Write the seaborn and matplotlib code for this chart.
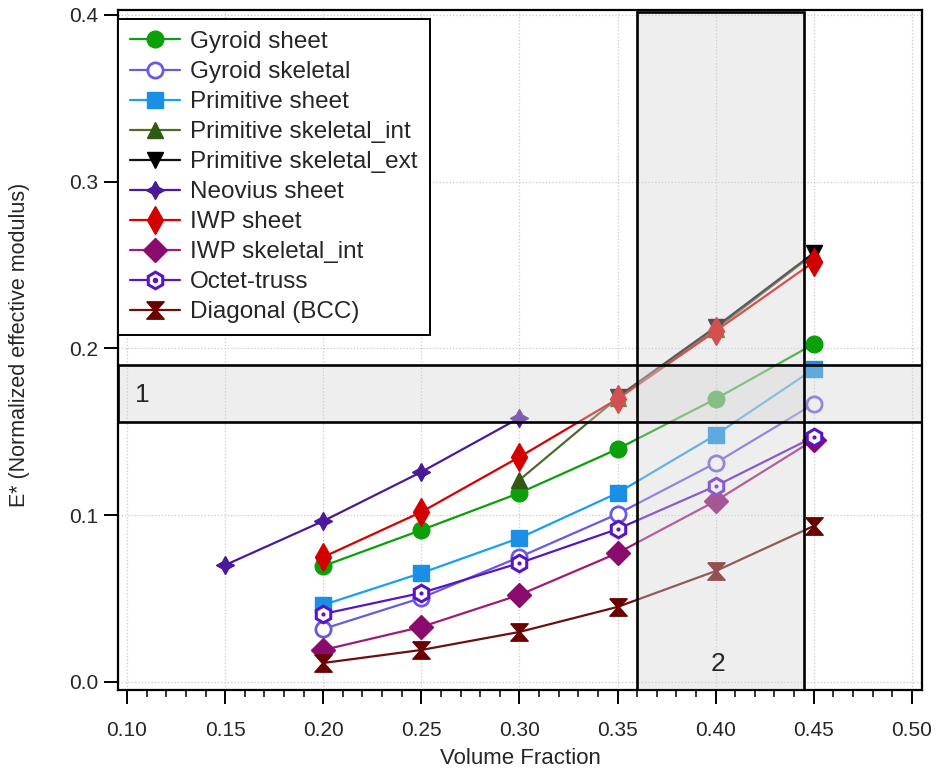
import matplotlib
matplotlib.use("Agg")
import matplotlib.pyplot as plt
import seaborn as sns
from matplotlib.patches import Rectangle
from matplotlib.ticker import MultipleLocator, FormatStrFormatter
from matplotlib.legend_handler import HandlerTuple

# ---------------- data ----------------
vf = [0.20, 0.25, 0.30, 0.35, 0.40, 0.45]
gyroid_sheet = [0.0695, 0.0911, 0.1133, 0.1397, 0.1697, 0.2026]
gyroid_skeletal = [0.0318, 0.0504, 0.0749, 0.1007, 0.1313, 0.1667]
primitive_sheet = [0.0462, 0.0653, 0.0863, 0.1133, 0.1481, 0.1876]
vf_prim_int = [0.30, 0.35, 0.40, 0.45]
primitive_skeletal_int = [0.1211, 0.1703, 0.2116, 0.2566]
vf_prim_ext = [0.35, 0.40, 0.45]
primitive_skeletal_ext = [0.1709, 0.2128, 0.2572]
vf_neovius = [0.15, 0.20, 0.25, 0.30]
neovius_sheet = [0.0701, 0.0965, 0.1259, 0.1583]
iwp_sheet = [0.0749, 0.1019, 0.1349, 0.1697, 0.2104, 0.2518]
iwp_skeletal_int = [0.0192, 0.0330, 0.0522, 0.0773, 0.1085, 0.1451]
octet_truss = [0.0408, 0.0534, 0.0713, 0.0917, 0.1175, 0.1469]
diagonal_bcc = [0.0114, 0.0192, 0.0300, 0.0450, 0.0665, 0.0935]

labels = ["Gyroid sheet", "Gyroid skeletal", "Primitive sheet",
          "Primitive skeletal_int", "Primitive skeletal_ext", "Neovius sheet",
          "IWP sheet", "IWP skeletal_int", "Octet-truss", "Diagonal (BCC)"]
xs = [vf, vf, vf, vf_prim_int, vf_prim_ext, vf_neovius, vf, vf, vf, vf]
ys = [gyroid_sheet, gyroid_skeletal, primitive_sheet, primitive_skeletal_int,
      primitive_skeletal_ext, neovius_sheet, iwp_sheet, iwp_skeletal_int,
      octet_truss, diagonal_bcc]

box1_y = (0.1559, 0.1900)
box2_x = (0.3600, 0.4450)
box2_top = 0.4017

# ---------------- styles ----------------
hourglass = [(-1, 1), (1, 1), (0.12, 0), (1, -1), (-1, -1), (-0.12, 0), (-1, 1)]
styles = [
    dict(color="#0aa00a", marker="o", ms=12, mfc="#0aa00a", mec="#0aa00a"),
    dict(color="#6a5ae0", marker="o", ms=11, mfc="white", mec="#6a5ae0", mew=2),
    dict(color="#19a0ee", marker="s", ms=11.5, mfc="#1a8fe6", mec="#1a8fe6"),
    dict(color="#4e6b2c", marker="^", ms=12, mfc="#2f5a12", mec="#2f5a12"),
    dict(color="#111111", marker="v", ms=12, mfc="black", mec="black"),
    dict(color="#4b1a9a", marker=(4, 1, 0), ms=13, mfc="#4b1a9a", mec="#4b1a9a"),
    dict(color="#d80000", marker="d", ms=14, mfc="#d40000", mec="#d40000"),
    dict(color="#a01a78", marker="D", ms=12, mfc="#8b0a6e", mec="#8b0a6e"),
    dict(color="#5a14c8", marker="h", ms=12, mfc="white", mec="#5a14c8", mew=2.2),
    dict(color="#6b1010", marker=hourglass, ms=12.5, mfc="#6b0000", mec="#6b0000"),
]

sns.set_style("ticks")
plt.rcParams["font.family"] = ["Liberation Sans", "DejaVu Sans"]

fig = plt.figure(figsize=(9.36, 7.74), dpi=100)
ax = fig.add_axes([118 / 936, 1 - 690 / 774, (922 - 118) / 936, (690 - 10) / 774])

handles = []
for lab, x, y, st in zip(labels, xs, ys, styles):
    sns.lineplot(x=x, y=y, ax=ax, color=st["color"], lw=1.6, marker=st["marker"],
                 markersize=st["ms"], markerfacecolor=st["mfc"],
                 markeredgecolor=st["mec"], markeredgewidth=st.get("mew", 1),
                 label=lab, zorder=3, legend=False)
    line = ax.lines[-1]
    if lab == "Octet-truss":
        sns.scatterplot(x=x, y=y, ax=ax, color=st["mec"], s=9, marker="o",
                        linewidth=0, zorder=4, legend=False)
        dot = ax.plot([], [], ls="none", marker="o", ms=3, color=st["mec"])[0]
        handles.append((line, dot))
    else:
        handles.append(line)

ax.set_xlim(0.0954, 0.5052)
ax.set_ylim(-0.0048, 0.4029)
x0, x1 = ax.get_xlim()
y0, y1 = ax.get_ylim()

# shaded boxes (drawn on top, semi-transparent)
for (bx, by, bw, bh) in [(x0, box1_y[0], x1 - x0, box1_y[1] - box1_y[0]),
                         (box2_x[0], y0, box2_x[1] - box2_x[0], box2_top - y0)]:
    ax.add_patch(Rectangle((bx, by), bw, bh, facecolor="#d4d4d4", alpha=0.38,
                           edgecolor="none", zorder=5))
    ax.add_patch(Rectangle((bx, by), bw, bh, facecolor="none", edgecolor="black",
                           lw=1.9, zorder=6))
ax.text(0.108, 0.172, "1", fontsize=19, ha="center", va="center", zorder=7)
ax.text(0.401, 0.0105, "2", fontsize=19, ha="center", va="center", zorder=7)

# axes styling
ax.xaxis.set_major_locator(MultipleLocator(0.05))
ax.xaxis.set_minor_locator(MultipleLocator(0.01))
ax.yaxis.set_major_locator(MultipleLocator(0.1))
ax.xaxis.set_major_formatter(FormatStrFormatter("%.2f"))
ax.yaxis.set_major_formatter(FormatStrFormatter("%.1f"))
ax.tick_params(axis="x", which="major", length=10, width=1.4, direction="out",
               labelsize=15, pad=12, color="black")
ax.tick_params(axis="x", which="minor", length=5, width=1.1, direction="out", color="black")
ax.tick_params(axis="y", which="major", length=10, width=1.4, direction="out",
               labelsize=15, pad=4, color="black")
for sp in ax.spines.values():
    sp.set_visible(True)
    sp.set_linewidth(1.6)
    sp.set_color("black")
ax.grid(True, which="major", color="#c8c8d8", ls=":", lw=0.9, zorder=0)
ax.set_axisbelow(True)

ax.set_xlabel("Volume Fraction", fontsize=16)
ax.set_ylabel("E* (Normalized effective modulus)", fontsize=15.5)
ax.xaxis.set_label_coords(0.5, -0.1)
ax.xaxis.label.set_va("center")
ax.yaxis.set_label_coords(-0.123, 0.508)
ax.yaxis.label.set_va("center")

leg = ax.legend(handles, labels, loc="upper left", bbox_to_anchor=(0.0, 0.987),
                borderaxespad=0.0, fontsize=17.5, frameon=True, fancybox=False,
                framealpha=1, edgecolor="black", handlelength=2.06,
                handletextpad=0.41, labelspacing=0.33, borderpad=0.5,
                handler_map={tuple: HandlerTuple(ndivide=1)})
leg.get_frame().set_linewidth(1.4)
leg.set_zorder(10)

fig.savefig("out.png", dpi=100)
